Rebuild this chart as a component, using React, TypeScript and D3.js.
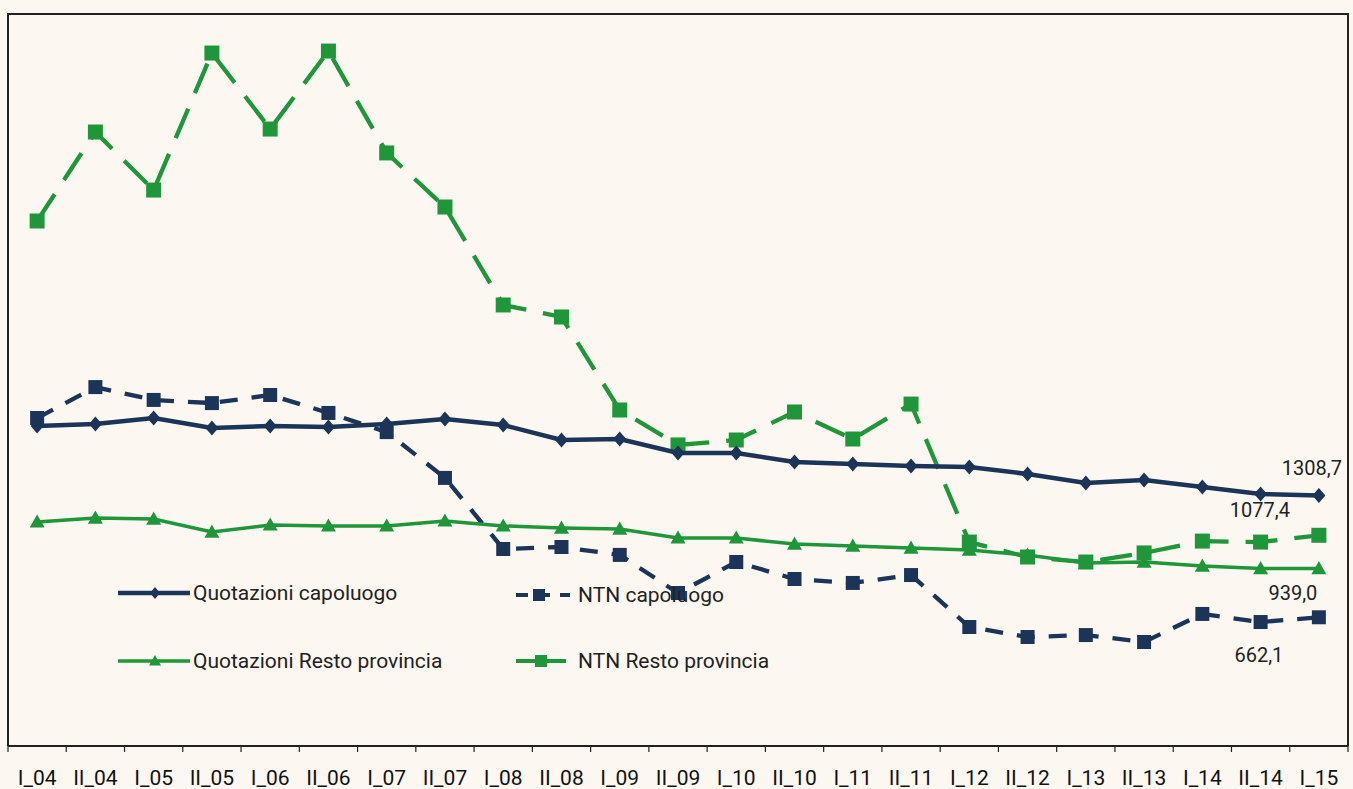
import React from "react";
import * as d3 from "d3";

const categories = ["I_04","II_04","I_05","II_05","I_06","II_06","I_07","II_07","I_08","II_08","I_09","II_09","I_10","II_10","I_11","II_11","I_12","II_12","I_13","II_13","I_14","II_14","I_15"];

const quotCapoluogo = [1661,1671,1701,1651,1661,1656,1671,1696,1666,1590,1595,1524,1524,1479,1469,1458,1453,1418,1372,1388,1352,1317,1308.7];
const quotResto = [1175,1195,1190,1124,1160,1155,1155,1180,1155,1144,1139,1094,1094,1063,1053,1043,1033,1008,967,972,952,939,939.0];
const ntnCapoluogo = [1671,1828,1763,1747,1788,1697,1600,1368,1008,1018,978,785,942,856,836,876,613,562,572,537,679,638,662.1];
const ntnResto = [2669,3120,2826,3520,3135,3530,3014,2740,2244,2183,1712,1535,1560,1702,1565,1742,1043,967,942,988,1048,1043,1077.4];

const labelTexts = ["1308,7", "1077,4", "939,0", "662,1"];

const NAVY = "#1b3457";
const GREEN = "#1f963a";
const BG = "#fcf8f1";
const FONT = "Roboto, 'DejaVu Sans', sans-serif";

const L = 8, R = 1348, T = 14, B = 746;

export default function App() {
  const x = d3.scaleBand<string>().domain(categories).range([L, R]);
  const cx = (c: string) => (x(c) as number) + x.bandwidth() / 2;
  // primary (quotazioni) and secondary (NTN) hidden axes
  const yQ = d3.scaleLinear().domain([0, 3700]).range([754, 754 - 3700 / 5.064]);
  const yN = d3.scaleLinear().domain([0, 3700]).range([748, 748 - 3700 / 5.065]);

  const line = (vals: number[], y: d3.ScaleLinear<number, number>) =>
    d3.line<number>().x((_, i) => cx(categories[i])).y((v) => y(v))(vals) as string;

  const diamond = (px: number, py: number, r = 6.5) =>
    `M${px},${py - r - 1}L${px + r},${py}L${px},${py + r + 1}L${px - r},${py}Z`;
  const triangle = (px: number, py: number, w = 7.5) =>
    `M${px},${py - w}L${px + w},${py + w * 0.75}L${px - w},${py + w * 0.75}Z`;
  const square = (px: number, py: number, s = 7.5) =>
    `M${px - s},${py - s}h${2 * s}v${2 * s}h${-2 * s}Z`;

  const last = categories[categories.length - 1];
  const li = categories.length - 1;
  const lx = cx(last);

  const ticks = d3.range(categories.length + 1).map((i) => L + i * x.step());

  return (
    <svg width={1353} height={789} style={{ position: "absolute", left: 0, top: 0, background: BG }}>
      <rect x={0} y={0} width={1353} height={789} fill={BG} />
      {/* frame */}
      <path d={`M${L},${B}V${T}H${R}V${B}`} fill="none" stroke="#222" strokeWidth={2} />
      <line x1={L} x2={R} y1={B} y2={B} stroke="#222" strokeWidth={2} />
      {ticks.map((t, i) => (
        <line key={i} x1={t} x2={t} y1={B} y2={B + 6} stroke="#222" strokeWidth={1.2} />
      ))}
      {categories.map((c) => (
        <text key={c} x={cx(c)} y={785} textAnchor="middle" fontFamily={FONT} fontSize={21} fill="#111">{c}</text>
      ))}

      {/* NTN Resto provincia */}
      <path d={line(ntnResto, yN)} fill="none" stroke={GREEN} strokeWidth={4.3} strokeDasharray="32 17" />
      {ntnResto.map((v, i) => <path key={i} d={square(cx(categories[i]), yN(v))} fill={GREEN} />)}

      {/* NTN capoluogo */}
      <path d={line(ntnCapoluogo, yN)} fill="none" stroke={NAVY} strokeWidth={4.3} strokeDasharray="18 14" />
      {ntnCapoluogo.map((v, i) => <path key={i} d={square(cx(categories[i]), yN(v), 7)} fill={NAVY} />)}

      {/* Quotazioni Resto provincia */}
      <path d={line(quotResto, yQ)} fill="none" stroke={GREEN} strokeWidth={3.5} />
      {quotResto.map((v, i) => <path key={i} d={triangle(cx(categories[i]), yQ(v))} fill={GREEN} />)}

      {/* Quotazioni capoluogo */}
      <path d={line(quotCapoluogo, yQ)} fill="none" stroke={NAVY} strokeWidth={4.5} />
      {quotCapoluogo.map((v, i) => <path key={i} d={diamond(cx(categories[i]), yQ(v))} fill={NAVY} />)}

      {/* data labels */}
      <g fontFamily={FONT} fontSize={20} fill="#222" textAnchor="middle">
        <text x={lx - 7} y={yQ(quotCapoluogo[li]) - 21}>{labelTexts[0]}</text>
        <text x={lx - 59} y={yN(ntnResto[li]) - 18}>{labelTexts[1]}</text>
        <text x={lx - 26} y={yQ(quotResto[li]) + 31}>{labelTexts[2]}</text>
        <text x={lx - 60} y={yN(ntnCapoluogo[li]) + 45}>{labelTexts[3]}</text>
      </g>

      {/* legend */}
      <g fontFamily={FONT} fontSize={21} fill="#222">
        <line x1={118} x2={190} y1={593} y2={593} stroke={NAVY} strokeWidth={4.5} />
        <path d={diamond(155, 593, 5)} fill={NAVY} />
        <text x={193} y={600}>Quotazioni capoluogo</text>

        <line x1={118} x2={190} y1={661} y2={661} stroke={GREEN} strokeWidth={3.5} />
        <path d={triangle(155, 661, 6)} fill={GREEN} />
        <text x={193} y={668}>Quotazioni Resto provincia</text>

        <line x1={516} x2={570} y1={595} y2={595} stroke={NAVY} strokeWidth={4} strokeDasharray="12 10" />
        <path d={square(539, 595, 6)} fill={NAVY} />
        <text x={578} y={602}>NTN capoluogo</text>

        <line x1={516} x2={572} y1={661} y2={661} stroke={GREEN} strokeWidth={4} strokeDasharray="20 10" />
        <path d={square(541, 661, 6)} fill={GREEN} />
        <text x={578} y={668}>NTN Resto provincia</text>
      </g>
    </svg>
  );
}
